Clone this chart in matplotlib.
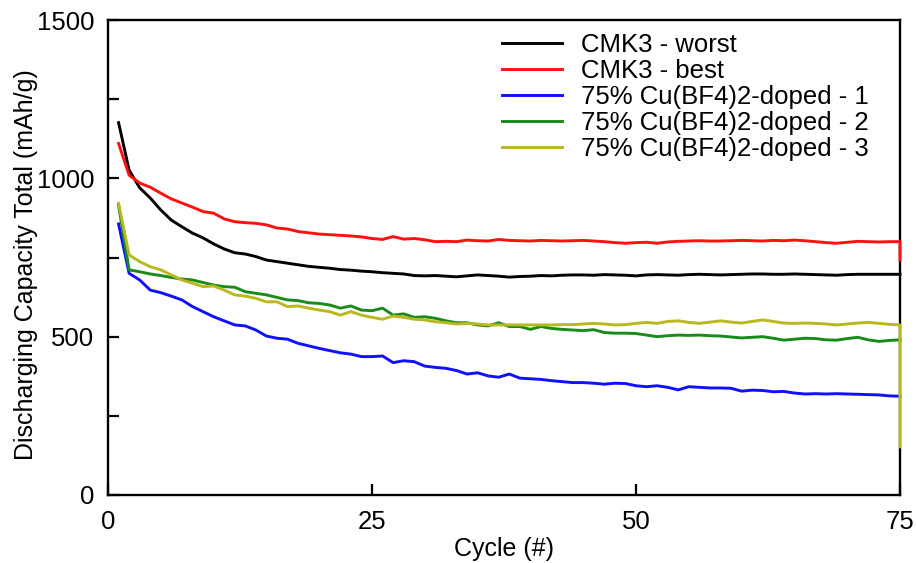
import matplotlib
matplotlib.use("Agg")
import matplotlib.pyplot as plt

plt.rcParams['font.family'] = ['Liberation Sans', 'DejaVu Sans']

cycles = list(range(1, 76))

cmk3_worst = [1176, 1026, 970, 938, 900, 868, 847, 827, 812, 793, 777, 765, 761, 753, 742,
              737, 732, 727, 722, 719, 716, 712, 710, 707, 705, 702, 700, 698, 693, 692,
              693, 691, 689, 692, 695, 693, 691, 688, 690, 691, 693, 692, 694, 695, 695,
              694, 696, 695, 694, 692, 695, 696, 695, 694, 696, 697, 696, 695, 696, 697,
              698, 698, 697, 697, 698, 697, 696, 695, 694, 696, 697, 697, 697, 697, 697]

cmk3_best = [1110, 1010, 985, 972, 953, 935, 922, 909, 895, 890, 872, 863, 860, 858, 853,
             843, 840, 832, 828, 824, 822, 820, 818, 815, 810, 807, 816, 808, 810, 806,
             800, 801, 800, 805, 803, 802, 807, 804, 803, 802, 804, 803, 802, 803, 804,
             802, 800, 797, 795, 797, 798, 795, 799, 801, 802, 803, 802, 802, 803, 804,
             803, 802, 804, 803, 805, 803, 800, 797, 795, 798, 801, 800, 799, 800, 800, 742]

doped_1 = [856, 700, 679, 647, 639, 628, 616, 595, 579, 563, 550, 537, 534, 521, 502,
           495, 492, 479, 471, 463, 456, 449, 445, 437, 437, 439, 418, 424, 421, 407,
           403, 400, 393, 382, 386, 376, 372, 382, 369, 367, 365, 361, 358, 355, 355,
           353, 350, 353, 352, 345, 342, 345, 340, 332, 342, 340, 338, 338, 337, 328,
           331, 330, 326, 327, 322, 319, 320, 319, 320, 319, 318, 317, 316, 313, 312]

doped_2 = [915, 711, 705, 698, 693, 687, 682, 679, 671, 663, 658, 656, 642, 637, 632,
           624, 616, 614, 607, 605, 600, 590, 597, 584, 582, 590, 568, 572, 561, 563,
           558, 550, 544, 544, 537, 534, 544, 532, 532, 523, 532, 526, 523, 521, 519,
           522, 513, 511, 511, 510, 505, 500, 503, 505, 504, 505, 503, 502, 499, 496,
           498, 500, 495, 489, 492, 495, 494, 490, 489, 494, 498, 490, 485, 488, 490]

doped_3 = [921, 758, 737, 721, 711, 695, 679, 669, 658, 660, 647, 632, 628, 621, 610,
           610, 595, 597, 590, 584, 579, 568, 579, 568, 561, 555, 565, 561, 555, 553,
           547, 544, 540, 542, 540, 537, 537, 537, 537, 537, 537, 537, 538, 538, 540,
           542, 540, 537, 538, 542, 545, 542, 548, 550, 545, 542, 546, 550, 546, 543,
           548, 553, 548, 543, 542, 543, 542, 540, 537, 540, 543, 545, 542, 539, 537, 152]

labels = ["CMK3 - worst", "CMK3 - best", "75% Cu(BF4)2-doped - 1",
          "75% Cu(BF4)2-doped - 2", "75% Cu(BF4)2-doped - 3"]
colors = ["#000000", "#ff1010", "#1010ff", "#1a8a1a", "#b8b820"]

x_best = cycles + [75]
x_d3 = cycles + [75]

fig = plt.figure(figsize=(9.16, 5.63), dpi=100)
ax = fig.add_axes([108/916, 68/563, 792/916, 475/563])

series = [(cycles, cmk3_worst), (x_best, cmk3_best), (cycles, doped_1),
          (cycles, doped_2), (x_d3, doped_3)]
for (xs, ys), lab, c in zip(series, labels, colors):
    ax.plot(xs, ys, color=c, lw=2.1, label=lab, solid_joinstyle='round',
            zorder=3, clip_on=False)

ax.set_xlim(0, 75)
ax.set_ylim(0, 1500)
ax.set_xticks([0, 25, 50, 75])
ax.set_yticks([0, 250, 500, 750, 1000, 1250, 1500])
ax.set_yticklabels(["0", "", "500", "", "1000", "", "1500"])
ax.tick_params(axis='both', direction='in', length=8, width=1.6, labelsize=18.5,
               colors='black')
ax.tick_params(axis='y', pad=10)
ax.tick_params(axis='x', pad=11)
for sp in ax.spines.values():
    sp.set_linewidth(1.7)

ax.set_xlabel("Cycle (#)", fontsize=18, labelpad=2)
ax.set_ylabel("Discharging Capacity Total (mAh/g)", fontsize=18, labelpad=-1,
              y=0.484)

ax.legend(loc='upper left', bbox_to_anchor=(502/916, 1 - 33/563),
          bbox_transform=fig.transFigure, frameon=False, fontsize=18.5,
          handlelength=2.35, handletextpad=0.72, labelspacing=0.08,
          borderpad=0, borderaxespad=0)

fig.savefig("out.png", dpi=100)
